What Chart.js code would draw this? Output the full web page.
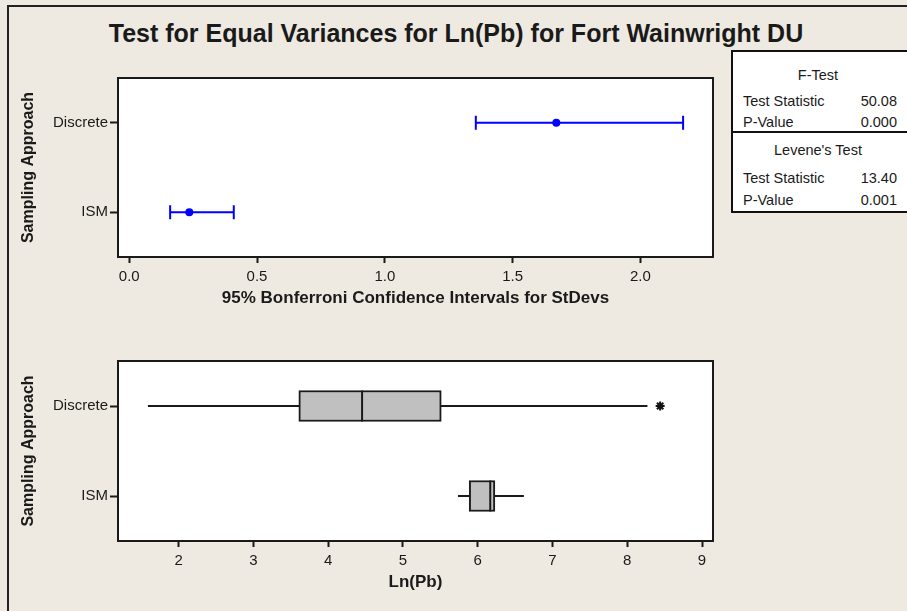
<!DOCTYPE html>
<html>
<head>
<meta charset="utf-8">
<script src="https://cdn.jsdelivr.net/npm/chart.js@4"></script>
<style>
  body { margin: 0; background: #eeeae1; font-family: "Liberation Sans", Arial, sans-serif; color: #1a1a1a; }
  #page { position: relative; width: 907px; height: 611px; overflow: hidden; background: #eeeae1; }
  #frame { position: absolute; left: 7px; top: 5px; width: 1000px; height: 700px; border-left: 2px solid #222; border-top: 2px solid #222; }
  #title { position: absolute; left: 0; top: 19px; width: 912px; text-align: center; font-weight: bold; font-size: 25px; line-height: 28px; }
  canvas { position: absolute; left: 0; }
  #stats { position: absolute; left: 731px; top: 50px; width: 200px; height: 159px; border: 2px solid #111; background: #fff; font-size: 14.5px; }
  #stats .row { position: absolute; left: 10px; width: 154px; height: 18px; line-height: 18px; display: flex; justify-content: space-between; }
  #stats .head { position: absolute; left: 0; width: 170px; height: 18px; line-height: 18px; text-align: center; }
  #stats .rule { position: absolute; left: 0; top: 79px; width: 200px; height: 2px; background: #111; }
</style>
</head>
<body>
<div id="page">
  <div id="frame"></div>
  <div id="title">Test for Equal Variances for Ln(Pb) for Fort Wainwright DU</div>
  <canvas id="ciChart" width="907" height="320" style="top:0"></canvas>
  <canvas id="boxChart" width="907" height="291" style="top:320px"></canvas>
  <div id="stats"></div>
</div>
<script>
const categories = ["Discrete", "ISM"];

// 95% Bonferroni confidence intervals for StDevs
const ciLower = [1.356, 0.160];
const ciEstimate = [1.671, 0.235];
const ciUpper = [2.167, 0.409];
const ciTicks = [0, 0.5, 1, 1.5, 2];

// boxplot of Ln(Pb)
const whiskerLow = [1.59, 5.736];
const q1 = [3.608, 5.887];
const median = [4.454, 6.168];
const q3 = [5.513, 6.23];
const whiskerHigh = [8.27, 6.618];
const outliers = [[8.44], []];
const lnTicks = [2, 3, 4, 5, 6, 7, 8, 9];

const fTest = [["Test Statistic", "50.08"], ["P-Value", "0.000"]];
const leveneTest = [["Test Statistic", "13.40"], ["P-Value", "0.001"]];

Chart.defaults.font.family = '"Liberation Sans", Arial, sans-serif';
Chart.defaults.color = "#1a1a1a";

// category row -> y value (top row is highest)
const rowY = (i) => categories.length - i;

// stats box
const stats = document.getElementById("stats");
function addLine(cls, top, html) {
  const d = document.createElement("div");
  d.className = cls;
  d.style.top = top + "px";
  d.innerHTML = html;
  stats.appendChild(d);
}
addLine("head", 14, "F-Test");
fTest.forEach((r, i) => addLine("row", 40 + i * 21, "<span>" + r[0] + "</span><span>" + r[1] + "</span>"));
const rule = document.createElement("div");
rule.className = "rule";
stats.appendChild(rule);
addLine("head", 89, "Levene's Test");
leveneTest.forEach((r, i) => addLine("row", 117 + i * 22, "<span>" + r[0] + "</span><span>" + r[1] + "</span>"));

const plotFrame = {
  id: "plotFrame",
  beforeDraw(chart) {
    const { ctx, chartArea: a } = chart;
    ctx.save();
    ctx.fillStyle = "#ffffff";
    ctx.fillRect(a.left, a.top, a.right - a.left, a.bottom - a.top);
    ctx.restore();
  },
  afterDraw(chart) {
    const { ctx, chartArea: a } = chart;
    ctx.save();
    ctx.strokeStyle = "#1a1a1a";
    ctx.lineWidth = 2;
    ctx.strokeRect(a.left, a.top, a.right - a.left, a.bottom - a.top);
    ctx.restore();
  },
};

function yScale() {
  return {
    type: "linear",
    min: 0.5,
    max: categories.length + 0.5,
    offset: false,
    afterBuildTicks: (s) => { s.ticks = categories.map((c, i) => ({ value: rowY(i) })); },
    afterFit: (s) => { s.width = 108; },
    ticks: {
      padding: 2,
      font: { size: 15 },
      callback: (v) => categories[categories.length - v],
    },
    grid: { offset: false, drawOnChartArea: false, tickLength: 8, tickWidth: 2, tickColor: "#1a1a1a" },
    border: { display: false },
    title: {
      display: true,
      text: "Sampling Approach",
      font: { size: 16, weight: "bold" },
      padding: { top: 9, bottom: 0 },
    },
  };
}

function xScale(min, max, tickValues, fmt, titleText) {
  return {
    type: "linear",
    min: min,
    max: max,
    offset: false,
    afterBuildTicks: (s) => { s.ticks = tickValues.map((v) => ({ value: v })); },
    afterFit: (s) => { s.height = 52; },
    ticks: { padding: 5, font: { size: 15 }, maxRotation: 0, callback: fmt },
    grid: { offset: false, drawOnChartArea: false, tickLength: 6, tickWidth: 2, tickColor: "#1a1a1a" },
    border: { display: false },
    title: {
      display: true,
      text: titleText,
      font: { size: 17, weight: "bold" },
      padding: { top: 0, bottom: 0 },
    },
  };
}

const commonOptions = {
  responsive: false,
  animation: false,
  plugins: { legend: { display: false }, tooltip: { enabled: false } },
};

// top: confidence intervals
const ciDatasets = categories.map((c, i) => ({
  type: "scatter",
  showLine: true,
  data: [{ x: ciLower[i], y: rowY(i) }, { x: ciUpper[i], y: rowY(i) }],
  borderColor: "#0000ff",
  borderWidth: 2,
  pointStyle: "line",
  pointRotation: 90,
  pointRadius: 7,
  pointBorderWidth: 2,
  pointBorderColor: "#0000ff",
  order: 1,
}));
ciDatasets.push({
  type: "scatter",
  data: categories.map((c, i) => ({ x: ciEstimate[i], y: rowY(i) })),
  pointStyle: "circle",
  pointRadius: 4,
  pointBorderWidth: 0,
  pointBackgroundColor: "#0000ff",
  order: 0,
});

new Chart(document.getElementById("ciChart"), {
  type: "scatter",
  data: { datasets: ciDatasets },
  options: {
    ...commonOptions,
    layout: { padding: { left: 10, right: 194, top: 78, bottom: 11 } },
    scales: {
      x: xScale(-0.044, 2.284, ciTicks, (v) => v.toFixed(1), "95% Bonferroni Confidence Intervals for StDevs"),
      y: yScale(),
    },
  },
  plugins: [plotFrame],
});

// bottom: boxplots
const boxDatasets = [];
categories.forEach((c, i) => {
  boxDatasets.push({
    type: "line",
    data: [{ x: whiskerLow[i], y: rowY(i) }, { x: whiskerHigh[i], y: rowY(i) }],
    borderColor: "#1a1a1a",
    borderWidth: 2,
    pointRadius: 0,
    order: 3,
  });
});
boxDatasets.push({
  type: "bar",
  indexAxis: "y",
  data: categories.map((c, i) => ({ x: [q1[i], q3[i]], y: rowY(i) })),
  backgroundColor: "#c0c0c0",
  borderColor: "#1a1a1a",
  borderWidth: 2,
  borderSkipped: false,
  barThickness: 31,
  order: 2,
});
boxDatasets.push({
  type: "scatter",
  data: categories.map((c, i) => ({ x: median[i], y: rowY(i) })),
  pointStyle: "line",
  pointRotation: 90,
  pointRadius: 15.5,
  pointBorderWidth: 2,
  pointBorderColor: "#1a1a1a",
  order: 1,
});
boxDatasets.push({
  type: "scatter",
  data: categories.flatMap((c, i) => outliers[i].map((v) => ({ x: v, y: rowY(i) }))),
  pointStyle: "star",
  pointRadius: 4.5,
  pointBorderWidth: 2,
  pointBorderColor: "#111111",
  order: 0,
});

new Chart(document.getElementById("boxChart"), {
  type: "scatter",
  data: { datasets: boxDatasets },
  options: {
    ...commonOptions,
    layout: { padding: { left: 10, right: 194, top: 41, bottom: 18 } },
    scales: {
      x: xScale(1.19, 9.147, lnTicks, (v) => String(v), "Ln(Pb)"),
      y: yScale(),
    },
  },
  plugins: [plotFrame],
});
</script>
</body>
</html>
